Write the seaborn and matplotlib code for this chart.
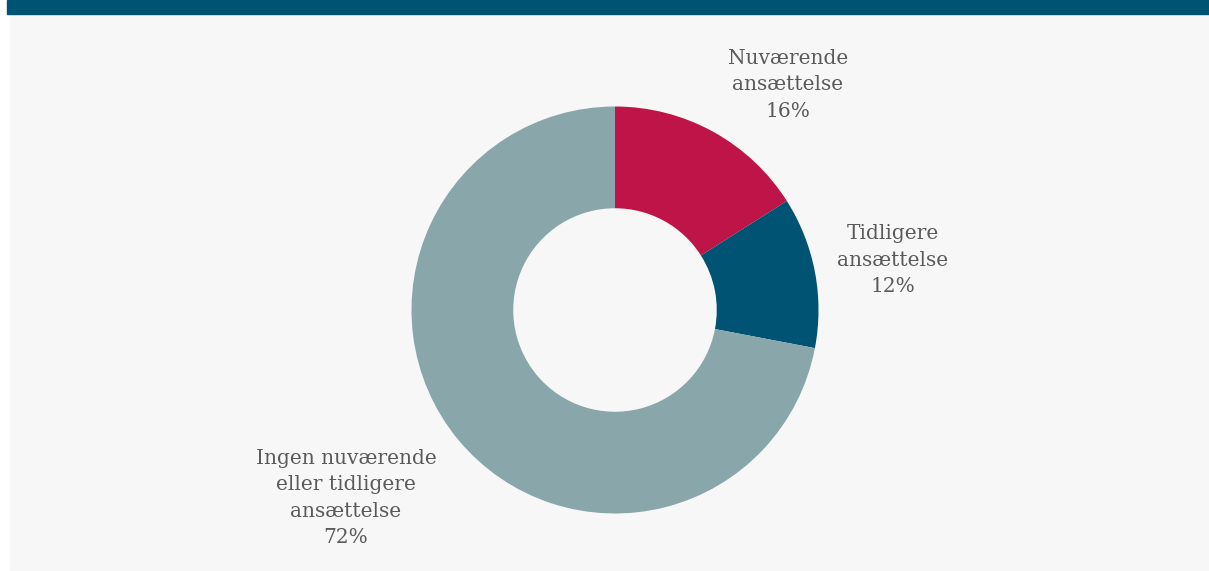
import matplotlib
matplotlib.use("Agg")
import matplotlib.pyplot as plt
import seaborn as sns

# Share of respondents by employment relation
categories = ["Nuværende\nansættelse", "Tidligere\nansættelse", "Ingen nuværende\neller tidligere\nansættelse"]
shares = [16, 12, 72]
colors = ["#BE1448", "#005372", "#89A6AA"]

sns.set_theme(style="white")
plt.rcParams["font.family"] = ["DejaVu Serif"]

W, H = 1209, 571
fig = plt.figure(figsize=(W / 100, H / 100), dpi=100)
fig.patch.set_facecolor("white")

ax = fig.add_axes([0, 0, 1, 1])

# panel background and header band
ax.add_patch(plt.Rectangle((10, 0), W - 10, 570, color="#F7F7F7", zorder=0))
ax.add_patch(plt.Rectangle((7, 0), W - 7, 14, color="#005372", zorder=1))

# y runs downwards here, so start at -90 to begin at the top and run clockwise
cx, cy, r = 615, 310, 203.5
wedges, _ = ax.pie(
    shares,
    colors=colors,
    startangle=-90,
    counterclock=True,
    center=(cx, cy),
    radius=r,
    wedgeprops=dict(width=r * 0.5, linewidth=0),
    frame=True,
)
ax.set_xlim(0, W)
ax.set_ylim(H, 0)
ax.set_aspect("equal")
ax.axis("off")

label_pos = [(788, 85), (893, 260), (346, 498)]
for name, val, (x, y) in zip(categories, shares, label_pos):
    ax.text(x, y, f"{name}\n{val}%", ha="center", va="center",
            fontsize=14.5, color="#5A5A5A", linespacing=1.5)

fig.savefig("out.png", dpi=100, facecolor=fig.get_facecolor())
